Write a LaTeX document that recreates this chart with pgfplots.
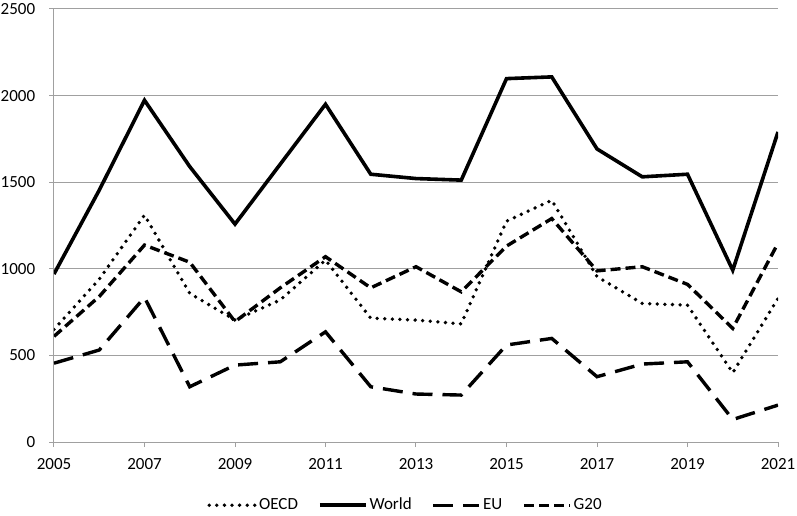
\documentclass[border=0pt]{standalone}
\usepackage{fontspec}
\setmainfont{Carlito}
\usepackage{pgfplots}
\pgfplotsset{compat=1.18}
\definecolor{gridgray}{RGB}{160,160,160}
\begin{document}
\fontsize{17}{20}\selectfont
\begin{tikzpicture}
\begin{axis}[
    scale only axis,
    width=724pt, height=433pt,
    xmin=2005, xmax=2021, ymin=0, ymax=2500,
    xtick={2005,2007,...,2021},
    ytick={0,500,...,2500},
    /pgf/number format/1000 sep={},
    /pgf/number format/assume math mode=true,
    axis lines*=left,
    axis line style={gridgray, line width=1pt},
    ymajorgrids,
    grid style={gridgray, line width=1pt},
    tick align=outside,
    major tick length=5pt,
    tick style={gridgray, line width=1pt},
    ticklabel style={black},
    yticklabel style={xshift=-8pt},
    xticklabel style={yshift=-6pt},
    legend style={draw=none, fill=none, legend columns=4,
        at={(0.4855,-0.146)}, anchor=center,
        /tikz/every even column/.append style={column sep=18pt}},
    legend image code/.code={\draw[#1] (0pt,0pt) -- (46pt,0pt);},
]
\coordinate (O) at (rel axis cs:0,0);
\addplot[black, line width=3.8pt, line cap=round, dash pattern=on 0pt off 7.6pt] coordinates {
(2005,650) (2006,940) (2007,1310) (2008,858) (2009,704) (2010,820) (2011,1050)
(2012,715) (2013,704) (2014,682) (2015,1275) (2016,1396) (2017,955) (2018,800)
(2019,790) (2020,400) (2021,829)};
\addlegendentry{OECD}
\addplot[black, line width=3.6pt] coordinates {
(2005,970) (2006,1454) (2007,1973) (2008,1590) (2009,1258) (2010,1604) (2011,1950)
(2012,1546) (2013,1521) (2014,1512) (2015,2098) (2016,2108) (2017,1692) (2018,1531)
(2019,1546) (2020,992) (2021,1790)};
\addlegendentry{World}
\addplot[black, line width=3.4pt, dash pattern=on 20pt off 10pt] coordinates {
(2005,455) (2006,531) (2007,835) (2008,319) (2009,444) (2010,463) (2011,636)
(2012,319) (2013,277) (2014,271) (2015,560) (2016,598) (2017,377) (2018,450)
(2019,463) (2020,130) (2021,213)};
\addlegendentry{EU}
\addplot[black, line width=3.4pt, dash pattern=on 10pt off 5pt] coordinates {
(2005,610) (2006,840) (2007,1137) (2008,1038) (2009,695) (2010,890) (2011,1070)
(2012,890) (2013,1012) (2014,867) (2015,1131) (2016,1290) (2017,988) (2018,1012)
(2019,910) (2020,656) (2021,1148)};
\addlegendentry{G20}
\end{axis}
\pgfresetboundingbox
\path ([shift={(-54pt,-74pt)}]O) rectangle ([shift={(743pt,442pt)}]O);
\end{tikzpicture}
\end{document}
